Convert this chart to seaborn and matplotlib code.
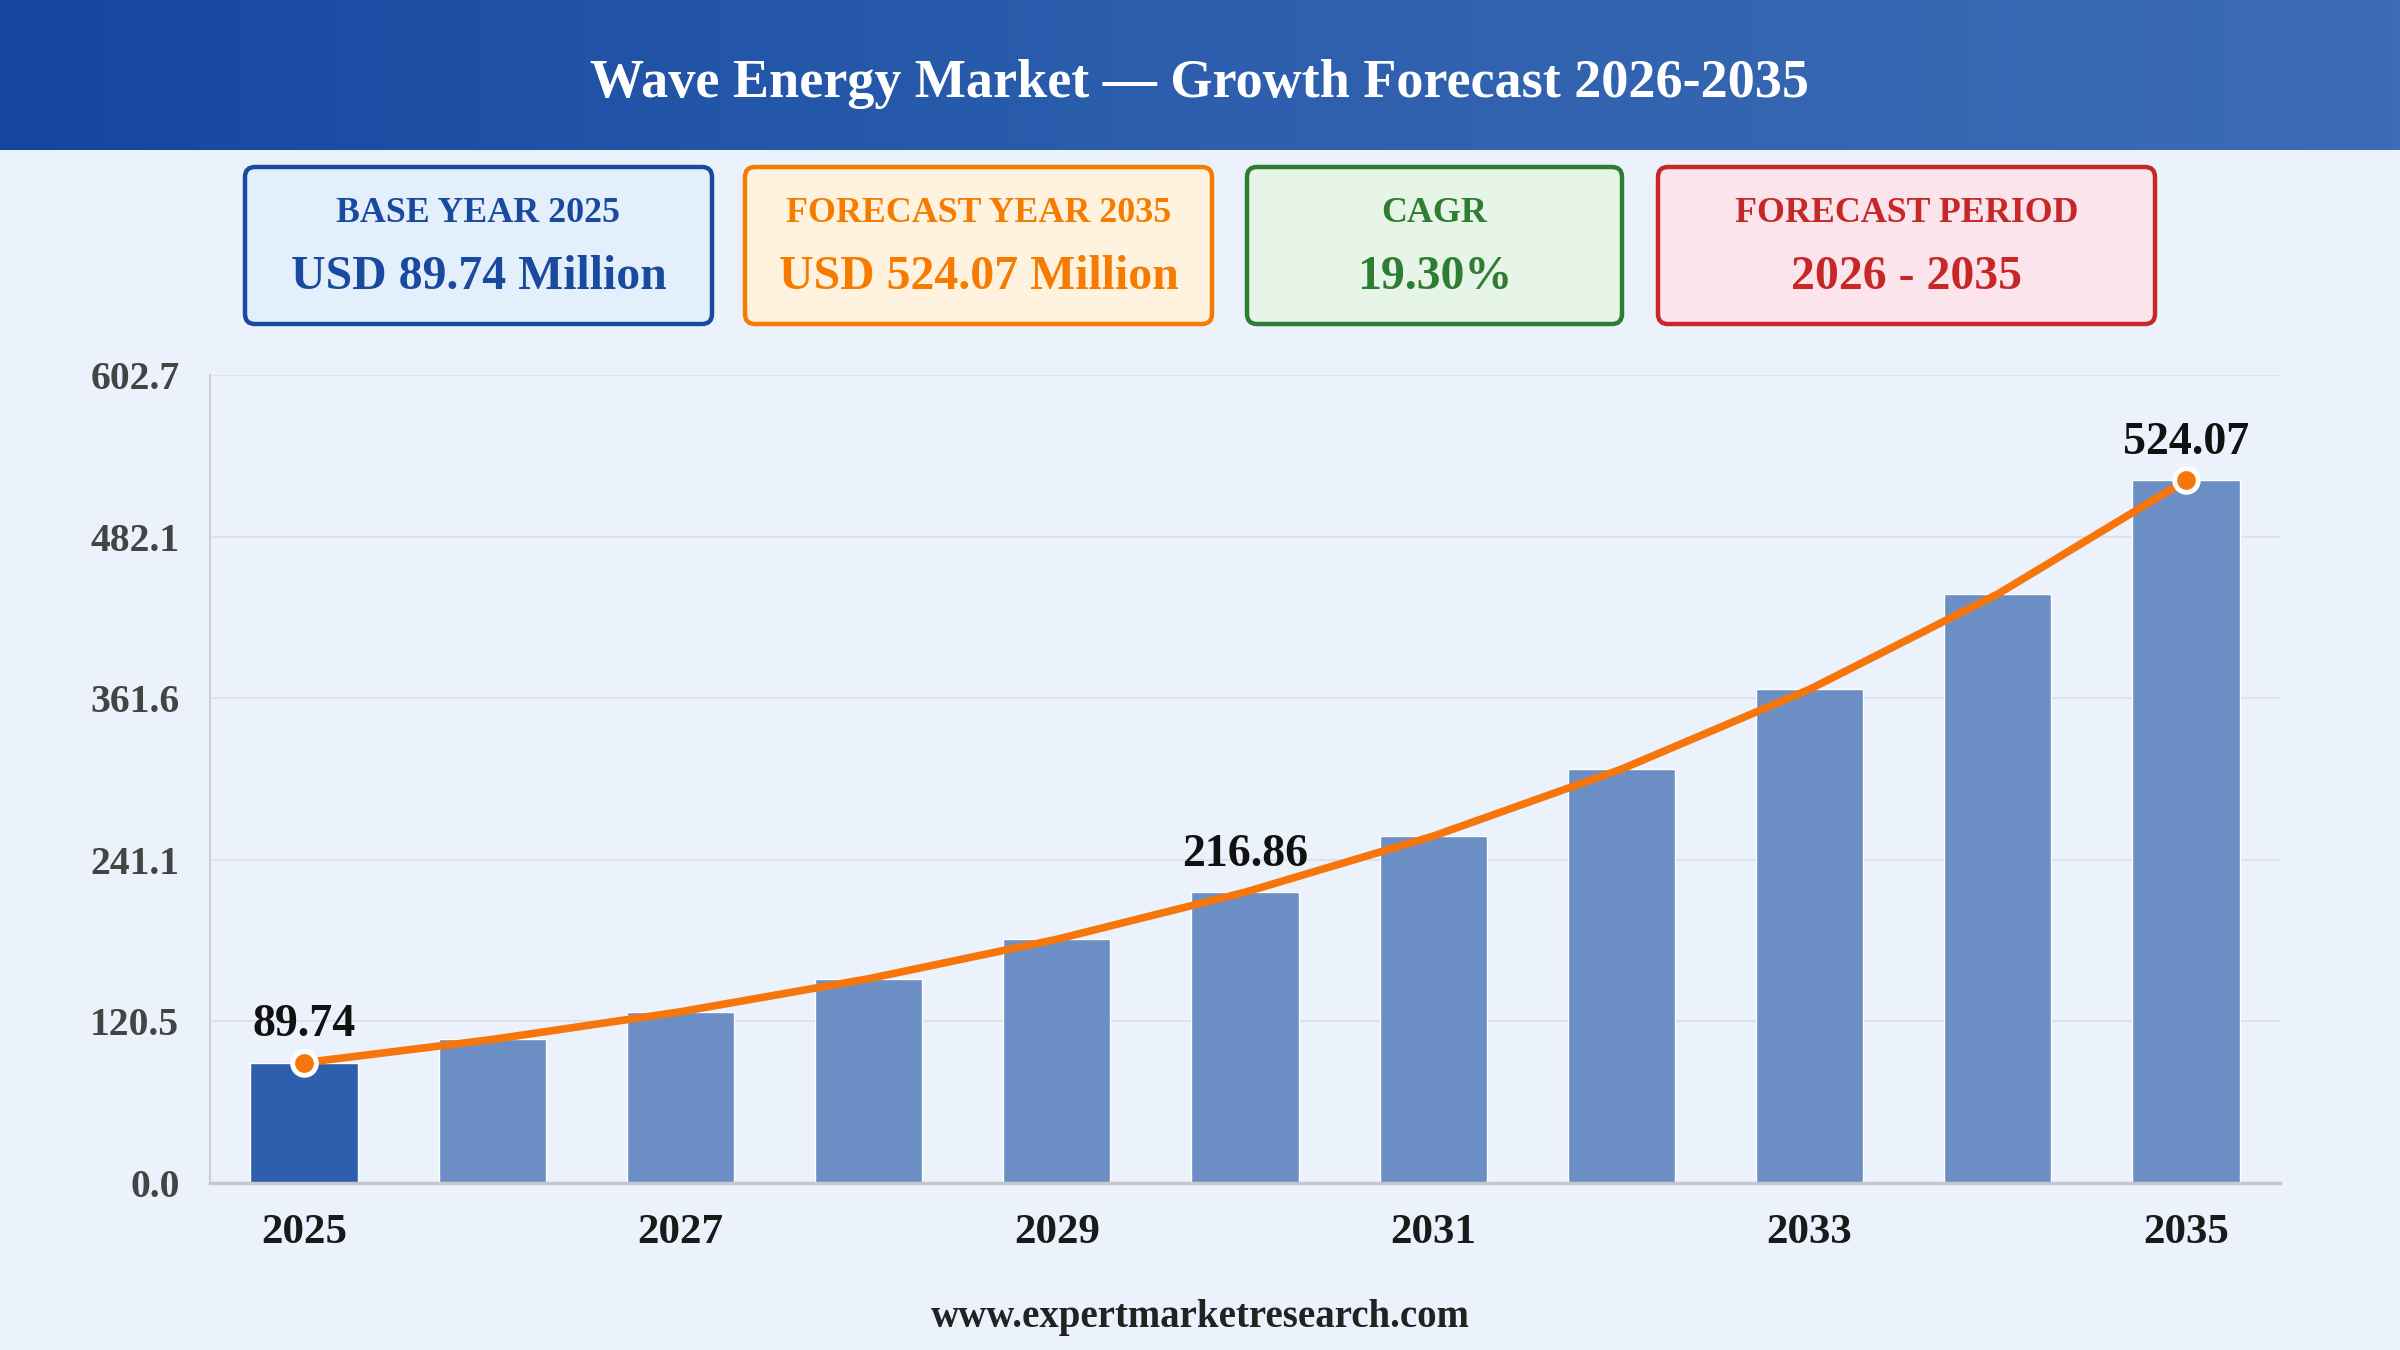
import numpy as np
import pandas as pd
import matplotlib
matplotlib.use("Agg")
import matplotlib.pyplot as plt
from matplotlib.patches import FancyBboxPatch
from matplotlib.colors import LinearSegmentedColormap
import seaborn as sns

# ---- data ----
years = [2025, 2026, 2027, 2028, 2029, 2030, 2031, 2032, 2033, 2034, 2035]
values = [89.74, 107.06, 127.72, 152.37, 181.78, 216.86, 258.72, 308.65, 368.22, 439.29, 524.07]
y_ticks = [0.0, 120.5, 241.1, 361.6, 482.1, 602.7]
x_tick_labels = ["2025", "", "2027", "", "2029", "", "2031", "", "2033", "", "2035"]
labelled_years = [2025, 2030, 2035]
marker_years = [2025, 2035]

title = "Wave Energy Market \u2014 Growth Forecast 2026-2035"
card_titles = ["BASE YEAR 2025", "FORECAST YEAR 2035", "CAGR", "FORECAST PERIOD"]
card_values = ["USD 89.74 Million", "USD 524.07 Million", "19.30%", "2026 - 2035"]
footer = "www.expertmarketresearch.com"

# ---- style ----
BG = "#ecf2fb"
BAR_BASE = "#2e5fad"
BAR = "#6b8fc5"
LINE = "#f7760c"
SERIF = ["Liberation Serif", "DejaVu Serif"]

sns.set_theme(style="white")
plt.rcParams["font.family"] = SERIF
plt.rcParams["font.weight"] = "bold"

W, H = 2400, 1350
fig = plt.figure(figsize=(24, 13.5), dpi=100)
fig.patch.set_facecolor(BG)

# overlay axes in pixel coordinates (y measured from bottom)
ov = fig.add_axes([0, 0, 1, 1], zorder=0)
ov.set_xlim(0, W)
ov.set_ylim(0, H)
ov.axis("off")
ov.patch.set_alpha(0)

# header gradient
hdr_h = 150
cmap = LinearSegmentedColormap.from_list("hdr", ["#1446a0", "#2d5fae", "#3b6cb4"])
grad = np.linspace(0, 1, 512).reshape(1, -1)
ov.imshow(grad, cmap=cmap, aspect="auto", extent=[0, W, H - hdr_h, H], zorder=1)
ov.set_xlim(0, W)
ov.set_ylim(0, H)
ov.text(W / 2, H - 84, title, color="white", fontsize=39, fontweight="bold",
        ha="center", va="center", zorder=2)

# cards
cards = [
    (245, 712, "#e3f0fc", "#1a4aa0", "#1a4aa0"),
    (745, 1212, "#fff2de", "#f57c00", "#f57c00"),
    (1247, 1622, "#e7f4e8", "#2e7d32", "#2e7d32"),
    (1658, 2155, "#fce4ec", "#c62828", "#c62828"),
]
top, bot = 167, 324
for (x0, x1, fc, ec, tc), t1, t2 in zip(cards, card_titles, card_values):
    box = FancyBboxPatch((x0, H - bot), x1 - x0, bot - top,
                         boxstyle="round,pad=0,rounding_size=10",
                         fc=fc, ec=ec, lw=3.2, zorder=2)
    ov.add_patch(box)
    cx = (x0 + x1) / 2
    ov.text(cx, H - 214, t1, color=tc, fontsize=25.8, fontweight="bold",
            ha="center", va="center", zorder=3)
    ov.text(cx, H - 277, t2, color=tc, fontsize=34.4, fontweight="bold",
            ha="center", va="center", zorder=3)

ov.text(W / 2, H - 1317, footer, color="#222222", fontsize=28, fontweight="bold",
        ha="center", va="center", zorder=3)

# main chart
ax = fig.add_axes([210 / W, 1 - 1183 / H, (2280 - 210) / W, (1183 - 375) / H], zorder=1)
ax.set_facecolor("none")
df = pd.DataFrame({"year": [str(y) for y in years], "value": values})
palette = {str(y): (BAR_BASE if y == years[0] else BAR) for y in years}
sns.barplot(data=df, x="year", y="value", hue="year", palette=palette,
            legend=False, width=0.57, saturation=1, ax=ax, zorder=2)

pos = np.arange(len(years))
ax.plot(pos, values, color=LINE, lw=5.5, solid_capstyle="round",
        solid_joinstyle="round", zorder=3)
for yr in marker_years:
    i = years.index(yr)
    ax.plot(pos[i], values[i], "o", ms=17, mfc=LINE, mec="white", mew=3.5, zorder=4)
for yr in labelled_years:
    i = years.index(yr)
    ax.annotate(f"{values[i]:.2f}", (pos[i], values[i]), xytext=(0, 27),
                textcoords="offset points", ha="center", va="center",
                fontsize=33, fontweight="bold", color="#111111", zorder=5)

ax.set_xlim(-0.5, len(years) - 0.5)
ax.set_ylim(0, y_ticks[-1])
ax.set_yticks(y_ticks)
ax.set_yticklabels([f"{v:.1f}" for v in y_ticks])
ax.set_xticks(pos)
ax.set_xticklabels(x_tick_labels)
ax.set_xlabel("")
ax.set_ylabel("")
ax.tick_params(axis="y", length=0, pad=22, labelsize=28.5, labelcolor="#444444")
ax.tick_params(axis="x", length=0, pad=22, labelsize=31, labelcolor="#1a1a1a")
for lab in ax.get_xticklabels() + ax.get_yticklabels():
    lab.set_fontweight("bold")
ax.yaxis.grid(True, color="#dde2ea", lw=1.5, zorder=0)
ax.set_axisbelow(True)
for s in ["top", "right"]:
    ax.spines[s].set_visible(False)
ax.spines["left"].set_color("#cdd1d7")
ax.spines["left"].set_linewidth(1.5)
ax.spines["bottom"].set_color("#c4c8ce")
ax.spines["bottom"].set_linewidth(2.5)

fig.savefig("out.png", dpi=100, facecolor=BG)
